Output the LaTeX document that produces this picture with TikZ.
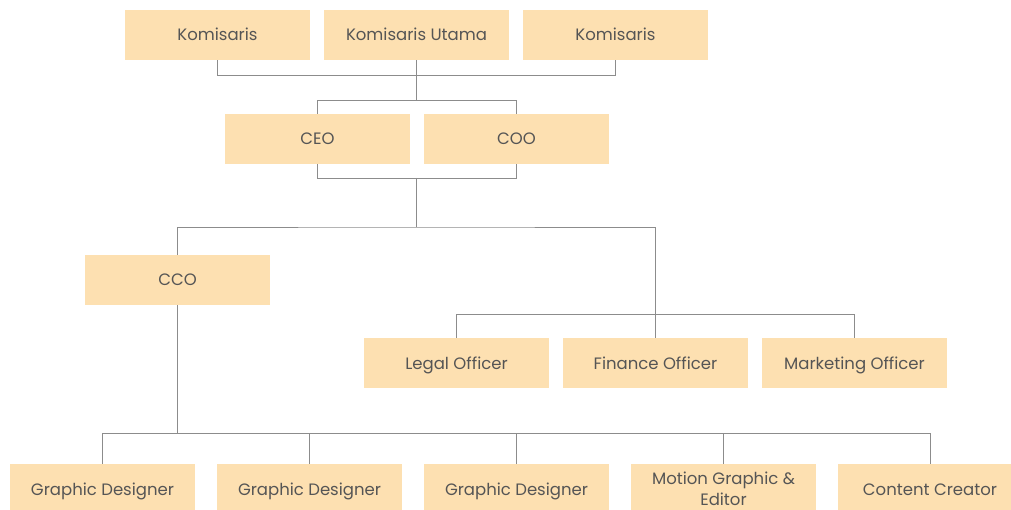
\documentclass[tikz,border=0pt]{standalone}
\usepackage{fontspec}
\setmainfont{Poppins}
\usepackage{tikz}
\definecolor{boxfill}{HTML}{FDE0B1}
\definecolor{boxtext}{HTML}{555555}
\definecolor{linegray}{HTML}{8C8C8C}
\begin{document}
\begin{tikzpicture}[x=1pt,y=-1pt,
		role/.style={fill=boxfill, text=boxtext, inner sep=0pt, minimum width=185pt, minimum height=50pt,
			align=center, font=\fontsize{16.5}{21}\selectfont},
		single/.style={role, text height=13pt, text depth=1pt},
		conn/.style={draw=linegray, line width=0.9pt}]
		\useasboundingbox (0,0) rectangle (1011,510);
		\clip (0,0) rectangle (1011,510);
		% board
		\node[single] (k1) at (217.5,35) {Komisaris};
		\node[single] (ku) at (416.5,35) {Komisaris Utama};
		\node[single] (k2) at (615.5,35) {Komisaris};
		% chiefs
		\node[single] (ceo) at (317.5,139) {CEO};
		\node[single] (coo) at (516.5,139) {COO};
		\node[single] (cco) at (177.5,280) {CCO};
		% officers
		\node[single] (legal) at (456.5,363) {Legal Officer};
		\node[single] (finance) at (655.5,363) {Finance Officer};
		\node[single] (marketing) at (854.5,363) {Marketing Officer};
		% creative team
		\node[single] (gd1) at (102.5,489) {Graphic Designer};
		\node[single] (gd2) at (309.5,489) {Graphic Designer};
		\node[single] (gd3) at (516.5,489) {Graphic Designer};
		\node[role] (mge) at (723.5,489) {Motion Graphic \&\\Editor};
		\node[single] (cc) at (930,489) {Content Creator};
		
		\draw[conn] (k1.south) -- ++(0,15) -| (k2.south);
		\draw[conn] (ku.south) -- ++(0,40) coordinate (jb);
		\draw[conn] (ceo.north) |- (jb) -| (coo.north);
		\draw[conn] (ceo.south) -- ++(0,14) -| (coo.south);
		\coordinate (jc) at (416.5,178);
		\draw[conn] (jc) -- ++(0,49) coordinate (jd);
		\draw[conn] (cco.north) |- (jd) -| (finance.north);
		\draw[conn] (legal.north) -- ++(0,-23) -| (marketing.north);
		\draw[conn] (cco.south) -- ++(0,128) coordinate (je);
		\draw[conn] (gd1.north) |- (je) -| (cc.north);
		\foreach \n in {gd2,gd3,mge}
			\draw[conn] (\n.north) -- (\n.north |- je);
		
		\end{tikzpicture}
\end{document}
